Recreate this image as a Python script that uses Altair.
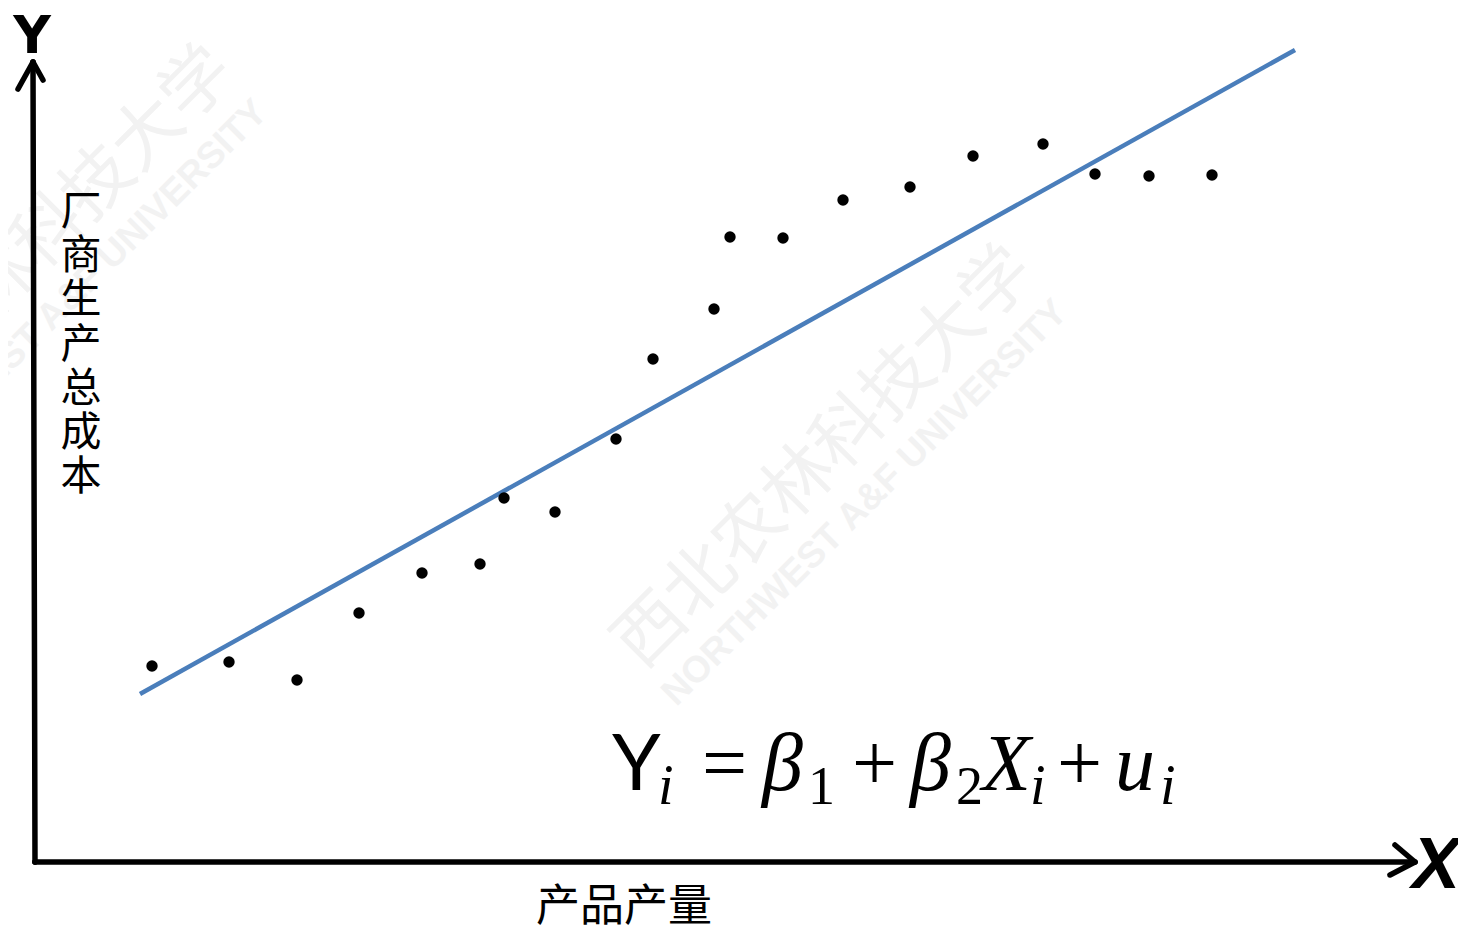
import altair as alt
import pandas as pd

# ---- data (units measured from the axis origin) ----
output_qty = [117, 194, 262, 324, 387, 445, 469, 520, 581, 618,
              679, 695, 748, 808, 875, 938, 1008, 1060, 1114, 1177]
total_cost = [196, 200, 182, 249, 289, 298, 364, 350, 423, 503,
              553, 625, 624, 662, 675, 706, 718, 688, 686, 687]

beta1 = 109.5      # intercept of drawn population regression line
beta2 = 0.5576     # slope
line_range = [105, 1260]

y_label_chars = list("厂商生产总成本")
x_label = "产品产量"

# ---- scales mapping units onto the page ----
W, H = 1450, 920
xs = alt.Scale(domain=[-27, 1423], nice=False, zero=False)
ys = alt.Scale(domain=[-66, 854], nice=False, zero=False)


def X(f="x"):
    return alt.X(f"{f}:Q", scale=xs, axis=None)


def Y(f="y"):
    return alt.Y(f"{f}:Q", scale=ys, axis=None)


layers = []

# ---- faint watermark ----
wm = [
    ("西北农林科技大学", 790, 404, 70, "Noto Sans CJK SC", "normal"),
    ("NORTHWEST A&F UNIVERSITY", 830, 359, 37, "Liberation Sans", "bold"),
    ("西北农林科技大学", -10, 604, 70, "Noto Sans CJK SC", "normal"),
    ("NORTHWEST A&F UNIVERSITY", 30, 559, 37, "Liberation Sans", "bold"),
]
for t, x, y, s, f, w in wm:
    layers.append(
        alt.Chart(pd.DataFrame({"x": [x], "y": [y], "t": [t]}))
        .mark_text(font=f, fontSize=s, fontWeight=w, color="#f2f2f2",
                   angle=315, align="center", baseline="middle")
        .encode(x=X(), y=Y(), text="t:N")
    )

# ---- axes with arrows ----
segs = pd.DataFrame({
    "x":  [0, 0, -2, -2, 0, 1380, 1380],
    "y":  [0, 0, 800, 800, 0, 0, 0],
    "x2": [-2, 1380, -17, 8, 0, 1360, 1355],
    "y2": [800, 0, 773, 782, 0, 17, -13],
})
layers.append(
    alt.Chart(segs).mark_rule(color="black", strokeWidth=5.5, strokeCap="round")
    .encode(x=X(), y=Y(), x2="x2:Q", y2="y2:Q")
)

# ---- regression line ----
line_df = pd.DataFrame({"x": line_range,
                        "y": [beta1 + beta2 * v for v in line_range]})
layers.append(
    alt.Chart(line_df).mark_line(color="#4A7EBB", strokeWidth=4.5)
    .encode(x=X(), y=Y())
)

# ---- scatter points ----
pts = pd.DataFrame({"x": output_qty, "y": total_cost})
layers.append(
    alt.Chart(pts).mark_circle(color="black", size=130, opacity=1)
    .encode(x=X(), y=Y())
)

# ---- axis letters ----
layers.append(
    alt.Chart(pd.DataFrame({"x": [-3], "y": [809], "t": ["Y"]}))
    .mark_text(font="DejaVu Sans", fontSize=52, fontWeight="bold",
               align="center", baseline="alphabetic", color="black")
    .encode(x=X(), y=Y(), text="t:N")
)
layers.append(
    alt.Chart(pd.DataFrame({"x": [1401], "y": [-26], "t": ["X"]}))
    .mark_text(font="Liberation Sans", fontSize=72, fontWeight="bold",
               fontStyle="italic", align="center", baseline="alphabetic",
               color="black")
    .encode(x=X(), y=Y(), text="t:N")
)

# ---- axis titles ----
vdf = pd.DataFrame({"x": [46] * len(y_label_chars),
                    "y": [862 - (213 + 44.2 * i) for i in range(len(y_label_chars))],
                    "t": y_label_chars})
layers.append(
    alt.Chart(vdf).mark_text(font="Noto Sans CJK SC", fontSize=41,
                             align="center", baseline="middle", color="black")
    .encode(x=X(), y=Y(), text="t:N")
)
layers.append(
    alt.Chart(pd.DataFrame({"x": [589], "y": [-46], "t": [x_label]}))
    .mark_text(font="Noto Sans CJK SC", fontSize=44,
               align="center", baseline="middle", color="black")
    .encode(x=X(), y=Y(), text="t:N")
)

# ---- formula  Y_i = β1 + β2 X_i + u_i ----
SER = "Liberation Serif"
pieces = [
    ("Y", 612, 790, 78, "Lato", "normal"),
    ("i", 658, 804, 56, SER, "italic"),
    ("=", 702, 790, 80, SER, "normal"),
    ("β", 762, 790, 82, SER, "italic"),
    ("1", 808, 804, 54, SER, "normal"),
    ("+", 852, 790, 80, SER, "normal"),
    ("β", 910, 790, 82, SER, "italic"),
    ("2", 956, 804, 54, SER, "normal"),
    ("X", 982, 790, 80, SER, "italic"),
    ("i", 1030, 804, 56, SER, "italic"),
    ("+", 1057, 790, 80, SER, "normal"),
    ("u", 1115, 790, 80, SER, "italic"),
    ("i", 1160, 804, 56, SER, "italic"),
]
for t, px, py, s, f, st in pieces:
    layers.append(
        alt.Chart(pd.DataFrame({"x": [px - 35], "y": [862 - py], "t": [t]}))
        .mark_text(font=f, fontSize=s, fontStyle=st, align="left",
                   baseline="alphabetic", color="black")
        .encode(x=X(), y=Y(), text="t:N")
    )

chart = (
    alt.layer(*layers)
    .properties(width=W, height=H, padding=0, autosize=alt.AutoSizeParams(type="none"),
                background="white")
    .configure_view(stroke=None)
)

chart.save("out.html", embed_options={"renderer": "svg", "actions": False})
